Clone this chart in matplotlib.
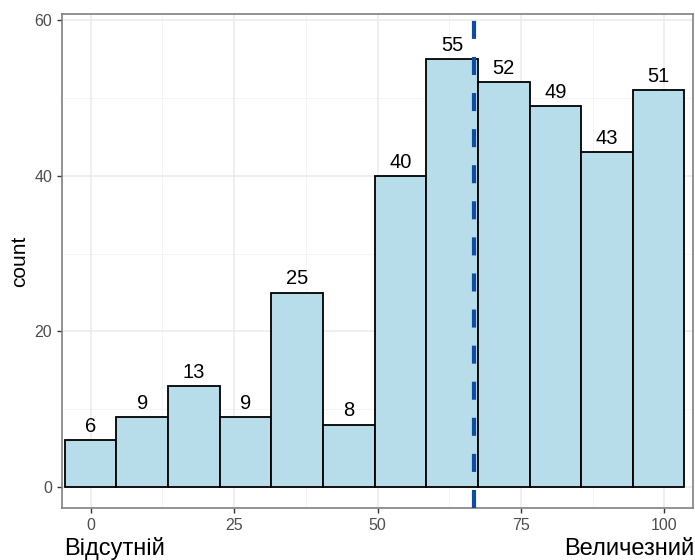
import matplotlib
matplotlib.use("Agg")
import matplotlib.pyplot as plt
import numpy as np

# Data
bin_centers = [0, 9, 18, 27, 36, 45, 54, 63, 72, 81, 90, 99]
counts = [6, 9, 13, 9, 25, 8, 40, 55, 52, 49, 43, 51]
bin_width = 9
mean_value = 66.8
x_ticks = [0, 25, 50, 75, 100]
y_ticks = [0, 20, 40, 60]
left_label = "Відсутній"
right_label = "Величезний"

plt.rcParams['font.family'] = ['Liberation Sans', 'DejaVu Sans']

fig = plt.figure(figsize=(6.95, 5.6), dpi=100)
ax = fig.add_axes([62/695, 52/560, (693-62)/695, (508-14)/560])

# grid
ax.set_xlim(-5, 105)
ax.set_ylim(-2.7, 60.8)
for v in [12.5, 37.5, 62.5, 87.5]:
    ax.axvline(v, color='#f2f2f2', lw=0.6, zorder=0)
for v in [10, 30, 50]:
    ax.axhline(v, color='#f2f2f2', lw=0.6, zorder=0)
for v in x_ticks:
    ax.axvline(v, color='#ebebeb', lw=1.1, zorder=0)
for v in y_ticks:
    ax.axhline(v, color='#ebebeb', lw=1.1, zorder=0)

ax.bar(bin_centers, counts, width=bin_width, color='#b7dcea', edgecolor='black',
       linewidth=1.3, zorder=2)
for xc, c in zip(bin_centers, counts):
    ax.text(xc, c + 0.55, str(c), ha='center', va='bottom', fontsize=14.5,
            color='black', zorder=3)

ax.axvline(mean_value, color='#0d4ba6', lw=3, linestyle=(0, (4.33, 4.33)), zorder=4)

ax.set_xticks(x_ticks)
ax.set_yticks(y_ticks)
ax.tick_params(axis='both', colors='#333333', labelcolor='#4d4d4d', labelsize=11.5,
               length=3.5, width=1)
for s in ax.spines.values():
    s.set_color('#808080')
    s.set_linewidth(1.2)
ax.set_ylabel('count', fontsize=15, color='black', labelpad=4)

fig.text(64/695, 1 - 555/560, left_label, ha='left', va='baseline', fontsize=17, color='black')
fig.text(694/695, 1 - 555/560, right_label, ha='right', va='baseline', fontsize=17, color='black')

fig.savefig('out.png', dpi=100)
